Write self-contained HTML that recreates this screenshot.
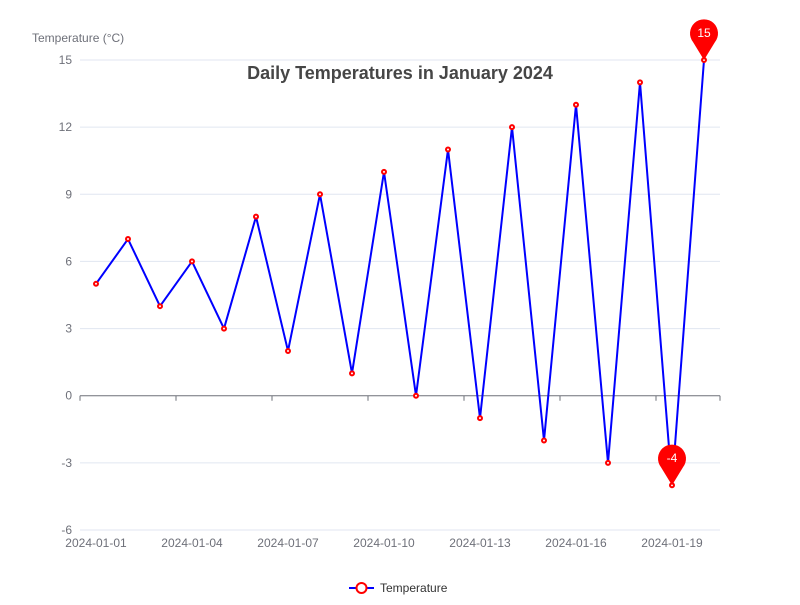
<!DOCTYPE html>
<html><head><meta charset="utf-8"><style>
body{margin:0;background:#fff;font-family:"Liberation Sans",sans-serif}
svg text{font-family:"Liberation Sans",sans-serif}
</style></head><body>
<svg id="c" width="800" height="600" xmlns="http://www.w3.org/2000/svg">
<text x="400" y="79" text-anchor="middle" font-size="18" font-weight="bold" fill="#464646">Daily Temperatures in January 2024</text>
<text x="32" y="42" font-size="12" fill="#6e7079">Temperature (°C)</text>
<g id="grid"></g><g id="xaxis"></g><g id="series"></g><g id="marks"></g>
<g>
<line x1="349" y1="588" x2="374" y2="588" stroke="#0000ff" stroke-width="2"/>
<circle cx="361.5" cy="588" r="5" fill="#fff" stroke="#ff0000" stroke-width="2"/>
<text x="380" y="592" font-size="12" fill="#333">Temperature</text>
</g>
</svg>
<script>
const categories=["2024-01-01","2024-01-02","2024-01-03","2024-01-04","2024-01-05","2024-01-06","2024-01-07","2024-01-08","2024-01-09","2024-01-10","2024-01-11","2024-01-12","2024-01-13","2024-01-14","2024-01-15","2024-01-16","2024-01-17","2024-01-18","2024-01-19","2024-01-20"];
const temps=[5,7,4,6,3,8,2,9,1,10,0,11,-1,12,-2,13,-3,14,-4,15];
const yTicks=[-6,-3,0,3,6,9,12,15];
const NS="http://www.w3.org/2000/svg";
const L=80,R=720,T=60,B=530,yMin=-6,yMax=15;
const band=(R-L)/categories.length;
const xs=i=>L+band*(i+0.5);
const ys=v=>B-(v-yMin)/(yMax-yMin)*(B-T);
function mk(p,t,a){const e=document.createElementNS(NS,t);for(const k in a)e.setAttribute(k,a[k]);p.appendChild(e);return e;}
const grid=document.getElementById('grid');
yTicks.forEach(v=>{
 const y=ys(v);
 if(v!==0){const l=mk(grid,'line',{x1:L,x2:R,y1:y,y2:y,stroke:'#e0e6f1'});
 
 }
 const t=mk(grid,'text',{x:72,y:y+4,'text-anchor':'end','font-size':12,fill:'#6e7079'});t.textContent=v;
 
 
});
const xa=document.getElementById('xaxis');
const y0=ys(0);
const ax=mk(xa,'line',{x1:L,x2:R,y1:y0,y2:y0,stroke:'#6e7079'});


for(let i=0;i<=categories.length;i+=3){
 const x=L+band*i;
 mk(xa,'line',{x1:x,x2:x,y1:y0,y2:y0+5,stroke:'#6e7079'});
}
mk(xa,'line',{x1:R,x2:R,y1:y0,y2:y0+5,stroke:'#6e7079'});
categories.forEach((c,i)=>{if(i%3)return;
 const t=mk(xa,'text',{x:xs(i),y:547,'text-anchor':'middle','font-size':12,fill:'#6e7079'});t.textContent=c;
 
 
});
const s=document.getElementById('series');
const pl=mk(s,'polyline',{points:temps.map((v,i)=>xs(i)+','+ys(v)).join(' '),fill:'none',stroke:'#0000ff','stroke-width':2,'stroke-linejoin':'bevel'});


temps.forEach((v,i)=>{const c=mk(s,'circle',{cx:xs(i),cy:ys(v),r:2,fill:'#fff',stroke:'#ff0000','stroke-width':2});
 
 });
const m=document.getElementById('marks');
function pin(i,label,name){
 const x=xs(i),y=ys(temps[i]);const cy=y-27,r=14;
 const g=mk(m,'g',{});
 
 
 mk(g,'path',{d:`M${x},${y} L${x-11},${cy+9} A${r},${r} 0 1 1 ${x+11},${cy+9} Z`,fill:'#ff0000'});
 const t=mk(g,'text',{x:x,y:cy+4,'text-anchor':'middle','font-size':12,fill:'#fff'});t.textContent=label;
}
const maxI=temps.indexOf(Math.max(...temps)),minI=temps.indexOf(Math.min(...temps));
pin(maxI,temps[maxI],'max-marker');pin(minI,temps[minI],'min-marker');
</script>
</body></html>
